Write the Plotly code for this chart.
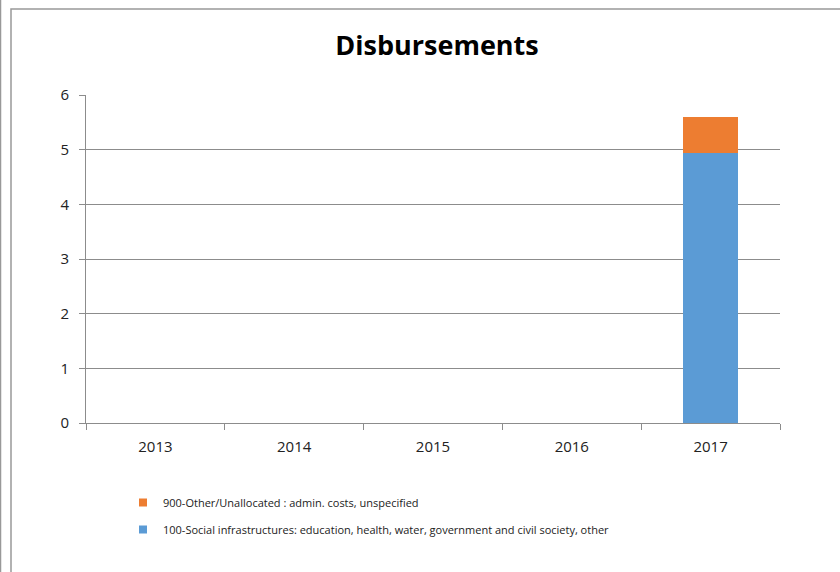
import plotly.graph_objects as go

years = ["2013", "2014", "2015", "2016", "2017"]
social = [None, None, None, None, 4.94]
other = [None, None, None, None, 0.66]
social_name = "100-Social infrastructures: education, health, water, government and civil society, other"
other_name = "900-Other/Unallocated : admin. costs, unspecified"
blue, orange = "#5B9BD5", "#ED7D31"

fig = go.Figure()
fig.add_trace(go.Bar(x=years, y=social, name=social_name, showlegend=False,
                     marker=dict(color=blue, line=dict(width=0))))
fig.add_trace(go.Bar(x=years, y=other, name=other_name, showlegend=False,
                     marker=dict(color=orange, line=dict(width=0))))
# legend-only entries with small square keys (orange listed first, as in the reference)
fig.add_trace(go.Scatter(x=[None], y=[None], mode="markers", name=other_name, legendgroup="a",
                         marker=dict(symbol="square", size=8, color=orange)))
fig.add_trace(go.Scatter(x=[None], y=[None], mode="markers", name=social_name, legendgroup="b",
                         marker=dict(symbol="square", size=8, color=blue)))

W, H = 840, 572
L, R, T, B = 86, 60, 95, 149
pw, ph = W - L - R, H - T - B

def px(x):
    return (x - L) / pw

def py(y):
    return (H - B - y) / ph

fig.update_layout(
    width=W, height=H,
    barmode="stack", bargap=0.6,
    paper_bgcolor="white", plot_bgcolor="white",
    margin=dict(l=L, r=R, t=T, b=B),
    font=dict(family="Open Sans, sans-serif", color="#404040"),
    title=dict(text="<b>Disbursements</b>", x=px(437), xref="paper", xanchor="center",
               y=1 - 46 / H, yanchor="middle", font=dict(size=27, color="#000000")),
    xaxis=dict(showgrid=False, showline=True, linecolor="#8c8c8c", linewidth=1,
               ticks="outside", tickson="boundaries", ticklen=6, tickcolor="#8c8c8c",
               ticklabelstandoff=10,
               tickfont=dict(size=15, color="#222222"), fixedrange=True),
    yaxis=dict(range=[0, 6], dtick=1, showgrid=True, gridcolor="#8c8c8c", gridwidth=1,
               showline=True, linecolor="#8c8c8c", ticks="outside", ticklen=6, tickcolor="#8c8c8c",
               ticklabelstandoff=7,
               tickfont=dict(size=15, color="#222222"), zeroline=False),
    legend=dict(orientation="v", traceorder="grouped", x=px(123), y=py(488),
                xanchor="left", yanchor="top",
                font=dict(size=11, color="#222222"), tracegroupgap=8,
                bgcolor="rgba(0,0,0,0)"),
    shapes=[
        dict(type="rect", xref="paper", yref="paper", x0=px(11), x1=px(850), y0=py(9), y1=py(590),
             line=dict(color="#999999", width=1.5), layer="below"),
        dict(type="line", xref="paper", yref="paper", x0=px(0.5), x1=px(0.5), y0=py(-5), y1=py(590),
             line=dict(color="#999999", width=1.5)),
    ],
)

fig.write_html("out.html", config={"displayModeBar": False},
               post_script="document.body.style.margin='0';document.body.style.overflow='hidden';")
